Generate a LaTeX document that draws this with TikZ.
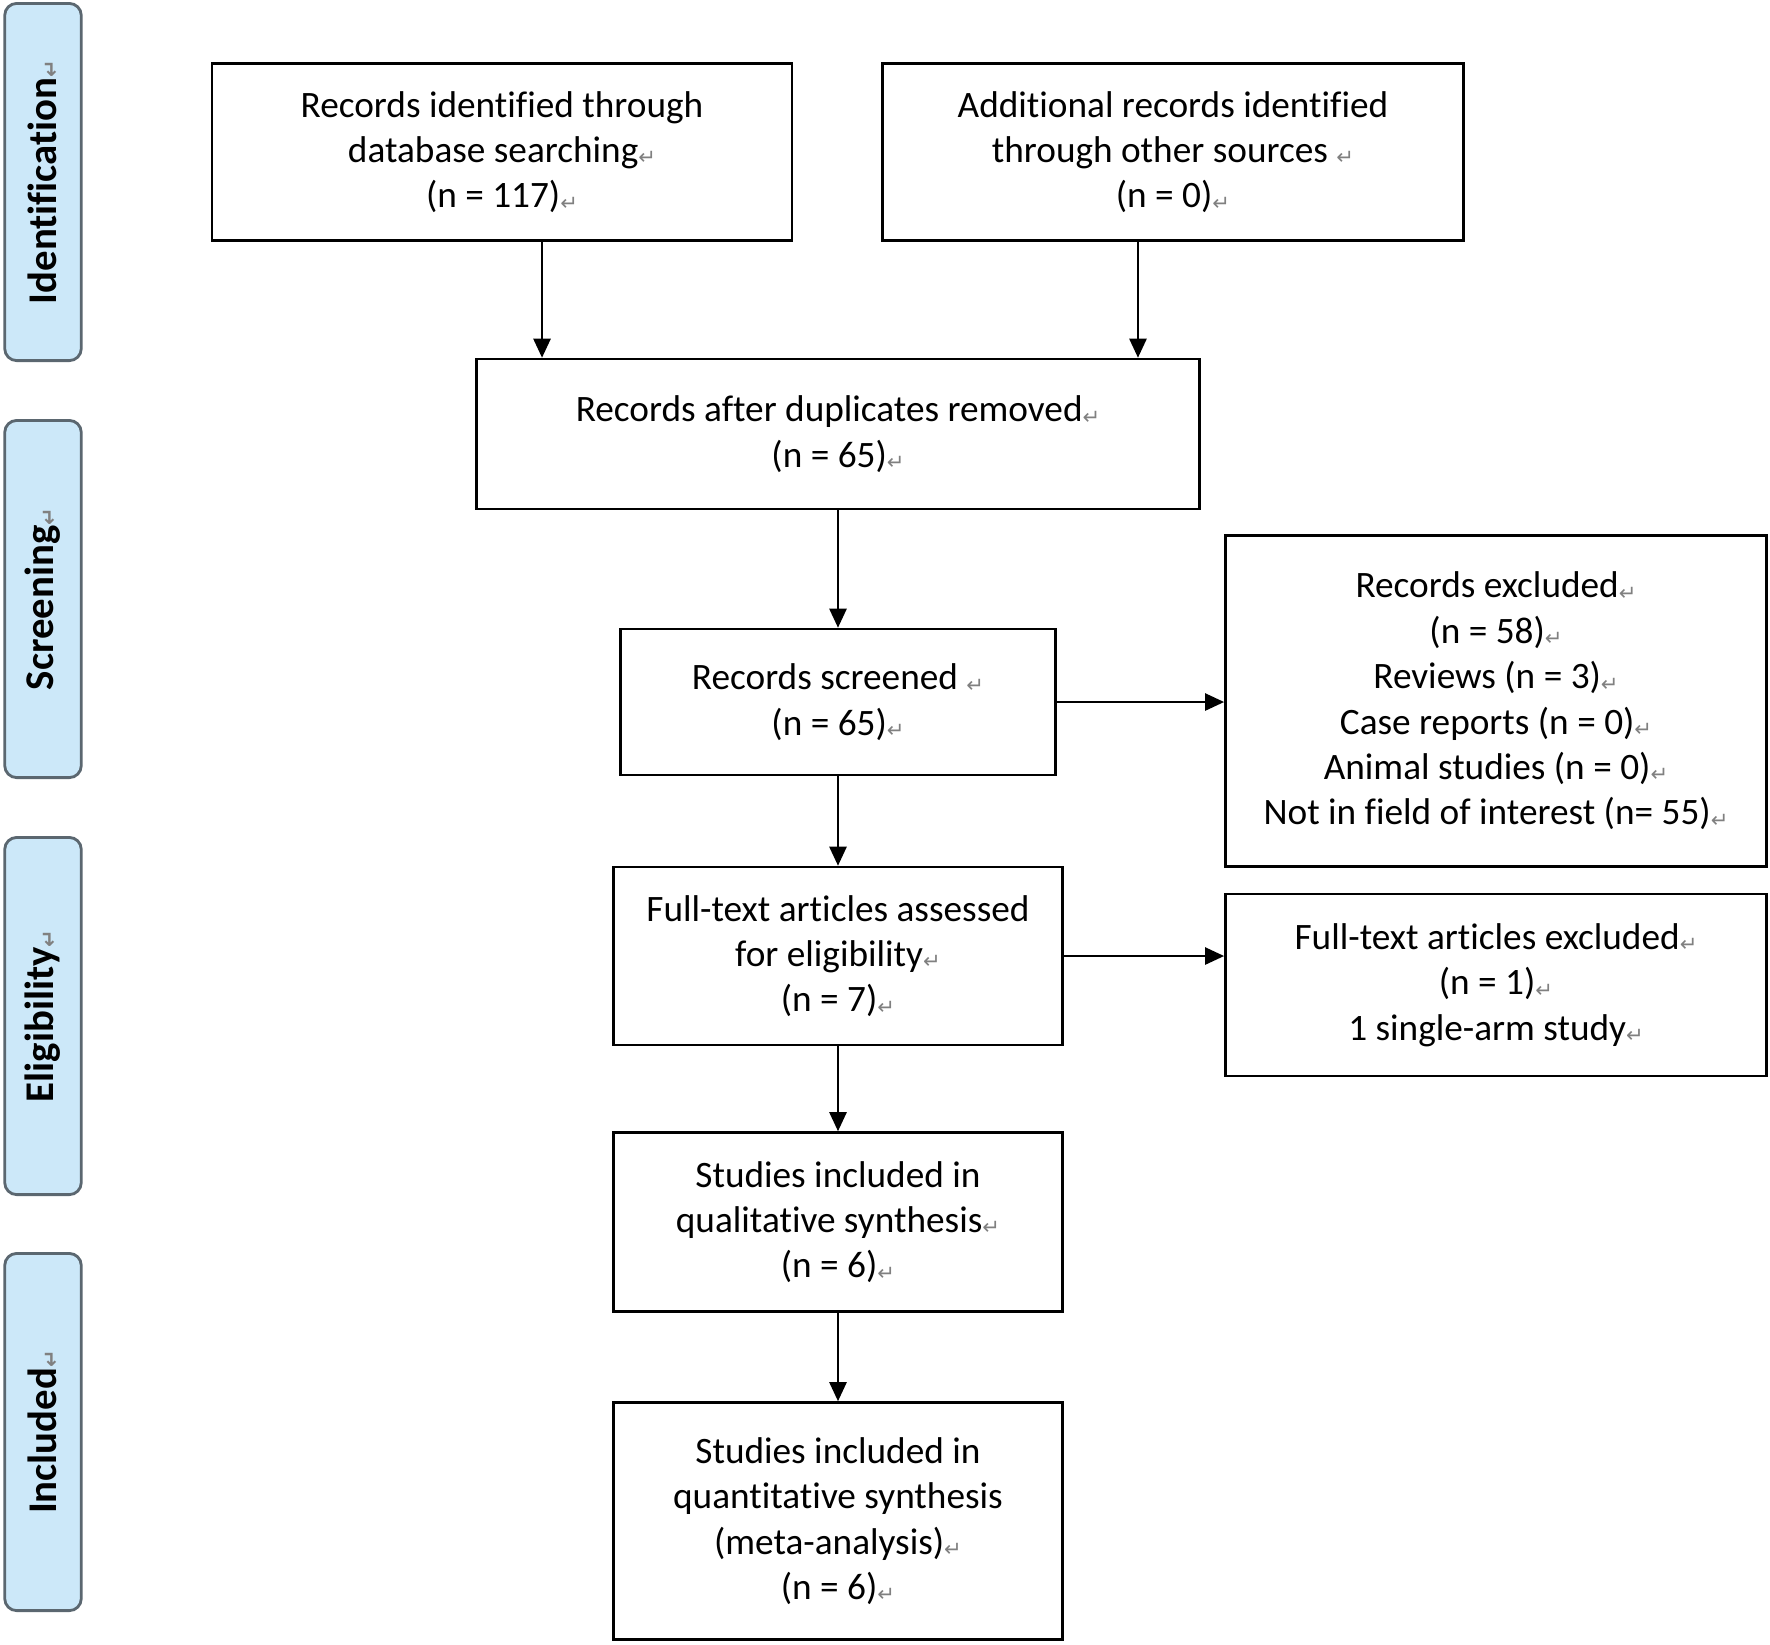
\documentclass[tikz,border=0pt]{standalone}
\usepackage{fontspec}
\setmainfont{Carlito}[Ligatures=CommonOff]
\newfontfamily\symfont{DejaVu Sans}
\usetikzlibrary{arrows.meta}
\definecolor{stagefill}{HTML}{CCE8F9}
\definecolor{stageborder}{HTML}{5B6770}
\newcommand{\ret}{{\symfont\color{gray}\fontsize{6}{6}\selectfont\raisebox{-0.2ex}{↵}}}

\begin{document}
\begin{tikzpicture}
[x=0.01cm,y=-0.01cm,%
  lineDecorate/.style={-{Triangle[length=0.19cm,width=0.17cm]},line width=0.7pt},%
  boxDecorate/.style={draw,line width=0.7pt,align=center,inner sep=2pt,font=\fontsize{10.6}{12.9}\selectfont},%
  stageDecorate/.style={draw=stageborder,fill=stagefill,line width=0.8pt,rounded corners=0.12cm,rotate=90,minimum width=3.57cm,minimum height=0.765cm,font=\fontsize{11.6}{13}\selectfont\bfseries}]
\useasboundingbox (0,0) rectangle (1770,1644);
%% stages on the left
\foreach \stagename/\y in {
  Identification/182, Screening/599, Eligibility/1016, Included/1432}
{
  \node[stageDecorate] (\stagename) at (43,\y) {\stagename\ret};
}
%% boxes
\node[boxDecorate,minimum width=5.80cm,minimum height=1.77cm] (db) at (502,152) {Records identified through\\database searching\ret\\(n = 117)\ret};
\node[boxDecorate,minimum width=5.81cm,minimum height=1.77cm] (other) at (1173,152) {Additional records identified\\through other sources \ret\\(n = 0)\ret};
\node[boxDecorate,minimum width=7.23cm,minimum height=1.50cm] (dup) at (838,434) {Records after duplicates removed\ret\\(n = 65)\ret};
\node[boxDecorate,minimum width=4.35cm,minimum height=1.46cm] (scr) at (838,702) {Records screened \ret\\(n = 65)\ret};
\node[boxDecorate,minimum width=5.41cm,minimum height=3.31cm] (exc) at (1496,701) {Records excluded\ret\\(n = 58)\ret\\Reviews (n = 3)\ret\\Case reports (n = 0)\ret\\Animal studies (n = 0)\ret\\Not in field of interest (n= 55)\ret};
\node[boxDecorate,minimum width=4.49cm,minimum height=1.78cm] (ft) at (838,956) {Full-text articles assessed\\for eligibility\ret\\(n = 7)\ret};
\node[boxDecorate,minimum width=5.41cm,minimum height=1.82cm] (fte) at (1496,985) {Full-text articles excluded\ret\\(n = 1)\ret\\1 single-arm study\ret};
\node[boxDecorate,minimum width=4.49cm,minimum height=1.79cm] (qual) at (838,1222) {Studies included in\\qualitative synthesis\ret\\(n = 6)\ret};
\node[boxDecorate,minimum width=4.49cm,minimum height=2.37cm] (quant) at (838,1521) {Studies included in\\quantitative synthesis\\(meta-analysis)\ret\\(n = 6)\ret};
%% arrows
\draw[lineDecorate] ([xshift=0.40cm]db.south) -- ([xshift=0.40cm]db.south |- dup.north);
\draw[lineDecorate] ([xshift=-0.35cm]other.south) -- ([xshift=-0.35cm]other.south |- dup.north);
\draw[lineDecorate] (scr.east) -- (scr.east -| exc.west);
\draw[lineDecorate] (ft.east) -- (ft.east -| fte.west);
\path
(dup) edge[lineDecorate] (scr)
(scr) edge[lineDecorate] (ft)
(ft) edge[lineDecorate] (qual)
(qual) edge[lineDecorate] (quant);
\end{tikzpicture}
\end{document}
